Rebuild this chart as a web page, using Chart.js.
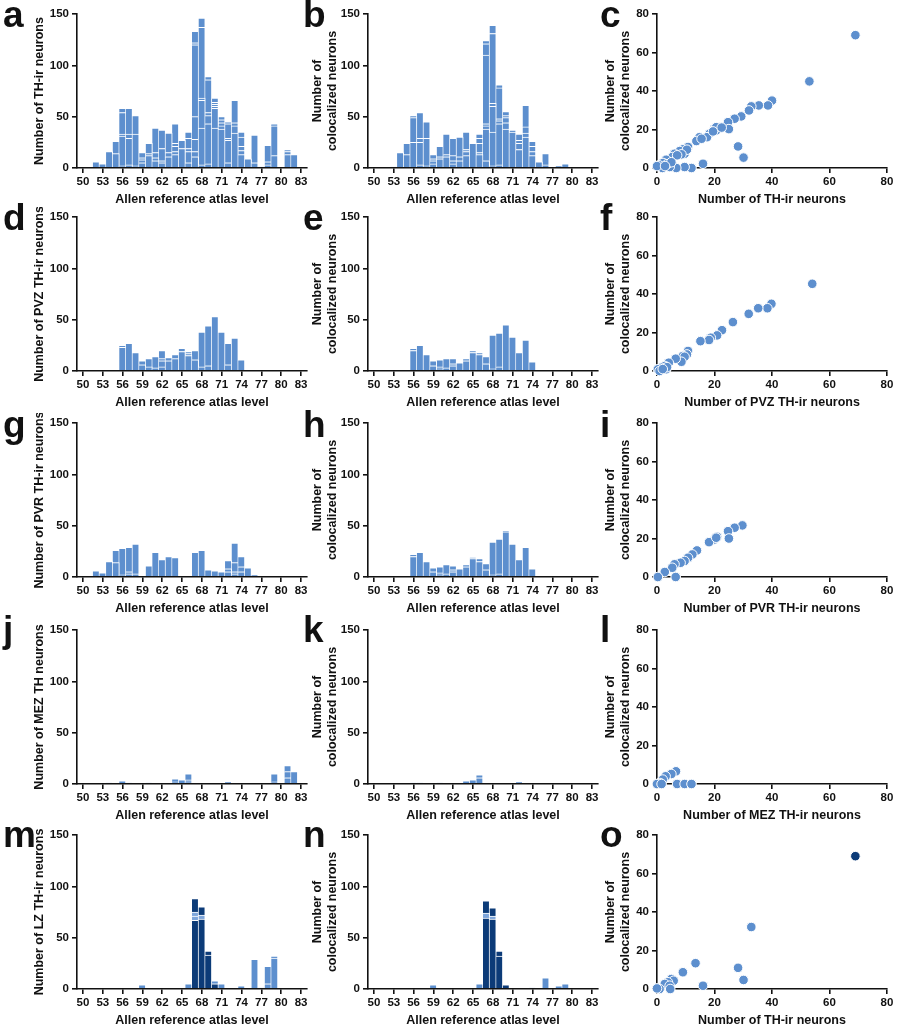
<!DOCTYPE html>
<html lang="en">
<head>
<meta charset="UTF-8">
<title>TH-ir neurons by atlas level</title>
<style>
  * { margin: 0; padding: 0; box-sizing: border-box; }
  body {
    width: 900px; height: 1031px; background: #fff;
    position: relative; overflow: hidden;
    font-family: 'Liberation Sans', Arial, sans-serif;
  }
  canvas { position: absolute; }
  .tag { position: absolute; font-size: 37px; line-height: 37px; font-weight: bold; color: #111; }
</style>
</head>
<body>
<script src="https://cdn.jsdelivr.net/npm/chart.js@4"></script>
<script>
// x categories of the histograms (Allen reference atlas levels)
const levels = [50, 51, 52, 53, 54, 55, 56, 57, 58, 59, 60, 61, 62, 63, 64, 65, 66,
                67, 68, 69, 70, 71, 72, 73, 74, 75, 76, 77, 78, 79, 80, 81, 82, 83];
const levelTicks = [50, 53, 56, 59, 62, 65, 68, 71, 74, 77, 80, 83];

// stacked segments per level, bottom -> top (one entry per level above)
const aSegs = [
  [], [], [6], [4], [16], [14, 12], [2, 29, 2, 21, 4], [3, 26, 4, 25], [2, 31, 18], [5, 3, 2, 5],
  [12, 2, 10], [7, 3, 5, 24], [5, 2, 12, 18], [11, 4, 19], [13, 3, 5, 3, 19], [19, 8], [5, 11, 3, 10, 6],
  [11, 5, 12, 22, 70, 2, 11], [3, 36, 27, 2, 69, 9], [4, 39, 8, 3, 32, 3],
  [39, 19, 2, 2, 2, 4], [38, 3, 3, 3, 3], [5, 22, 2, 14, 2], [34, 7, 3, 22], [13, 4, 4, 9, 5], [9], [5, 27], [1], [3, 3, 16], [12, 29, 2],
  [], [13, 3, 2], [13], []
];
const bSegs = [
  [], [], [], [1], [15], [13, 11], [25, 24, 2], [3, 22, 4, 25], [2, 27, 16], [4, 3, 2, 4],
  [9, 2, 10], [11, 2, 20], [4, 3, 5, 17], [7, 4, 19], [12, 4, 2, 17], [24], [13, 2, 9, 5, 4],
  [7, 31, 3, 2, 67, 11, 3], [2, 33, 25, 3, 68, 8], [3, 40, 3, 2, 30, 3],
  [38, 6, 5, 2, 4], [35, 2], [18, 6, 3, 6], [30, 4, 6, 21], [12, 4, 5, 5], [6], [3, 11], [], [2], [4],
  [], [], [], []
];
const dSegs = [
  [], [], [], [], [], [], [23, 2], [27], [18], [6, 4],
  [4, 8], [3, 11], [4, 6, 2, 8], [10, 3], [12, 4], [19, 3], [15, 2, 2], [11, 9], [4, 34], [5, 39],
  [53], [38], [6, 21], [32], [11], [], [], [], [], [],
  [], [], [], []
];
const eSegs = [
  [], [], [], [], [], [], [20, 2], [25], [16], [5, 5],
  [2, 2, 7], [3, 9], [5, 2, 5], [8], [10, 2], [18, 2], [16, 2], [7, 7], [2, 33], [4, 33],
  [45], [33], [18], [30], [9], [], [], [], [], [],
  [], [], [], []
];
const gSegs = [
  [], [], [6], [4], [15], [14, 12], [2, 26], [3, 2, 24], [3, 29], [],
  [11], [24], [17], [20], [19], [], [], [24], [26], [7],
  [6], [5], [5, 3, 8], [3, 2, 9, 19], [5, 5, 10], [9], [2], [], [], [],
  [], [], [], []
];
const hSegs = [
  [], [], [], [], [], [], [20, 2], [24], [15], [5, 4],
  [2, 2, 6], [3, 9], [5, 2, 4], [8], [10, 2], [18, 1], [15, 3], [7, 6], [2, 32], [3, 34],
  [44, 1], [32], [17], [29], [8], [], [], [], [], [],
  [], [], [], []
];
const jSegs = [
  [], [], [], [], [1], [], [3], [1], [], [],
  [1], [], [], [], [2, 3], [4], [2, 2, 6], [], [], [],
  [], [], [2], [], [], [], [], [], [], [2, 8],
  [], [6, 6, 6], [12], []
];
const kSegs = [
  [], [], [], [], [], [], [1], [1], [], [],
  [1], [], [], [], [3], [4], [6, 3], [], [], [],
  [], [], [2], [], [], [], [], [], [], [],
  [], [], [], []
];
const mSegs = [
  [], [], [], [], [], [], [], [], [], [4],
  [], [], [], [], [], [], [5], [67, 4, 4, 13], [68, 4, 8], [33, 4],
  [5, 3], [5], [], [], [3], [], [29], [1], [5, 17], [30, 2],
  [], [], [], []
];
// tone of each segment: d = LZ dark, m = mid, l = light
const mTones = [
  '', '', '', '', '', '', '', '', '', 'l',
  '', '', '', '', '', '', 'l', 'dmmd', 'dmd', 'dd',
  'dl', 'l', '', '', 'l', '', 'l', 'l', 'll', 'll',
  '', '', '', ''
];
const nSegs = [
  [], [], [], [], [], [], [], [], [], [4],
  [], [], [], [], [], [], [5], [69, 5, 12], [68, 3, 8], [32, 5],
  [4], [], [], [], [1], [], [11], [], [3], [5],
  [], [], [], []
];
const nTones = [
  '', '', '', '', '', '', '', '', '', 'l',
  '', '', '', '', '', '', 'l', 'dmd', 'dmd', 'dd',
  'd', '', '', '', 'l', '', 'l', '', 'l', 'l',
  '', '', '', ''
];

// scatter panels: TH-ir count vs colocalized count
const cX = [69, 53, 40, 38.6, 35.4, 32.8, 32, 29.3, 27, 24.7, 25, 21.8, 20.6, 20, 18.3, 17.4, 14.8, 13.7, 10.8, 9, 7.9, 6.1, 5.3,
            3.2, 2.1, 0.7, 28.2, 30.1, 16, 12, 9.6, 6.7, 4.4, 1.9, 0, 9.6, 10.4, 8.5, 7, 20.6, 19.5, 3.5, 5, 2.8, 15.5, 22.5];
const cY = [69, 45, 35, 32.5, 32.5, 32, 29.9, 26.8, 25.6, 23.8, 20.2, 21.2, 19.5, 20.4, 17.8, 16, 16, 14, 10.9, 9.7, 8.8, 7.4, 5.7,
            4.3, 2.6, 1.4, 11.2, 5.4, 2.2, 0, 0.5, 0, 0.5, 0, 1, 7.4, 9.5, 7.1, 6.6, 21.2, 19, 2, 3, 1, 15.2, 21];
const fX = [54, 39.8, 38.4, 35.2, 31.9, 26.4, 22.6, 20.9, 18.7, 18.1, 15.1, 10.8, 10.4, 9, 9.6, 8.5, 6.5, 4.1, 2.7, 1.5, 0.3, 0.9, 3.2, 3.5, 2];
const fY = [45.3, 34.9, 32.6, 32.6, 29.7, 25.4, 21.2, 18.5, 17.3, 16.1, 15.5, 10.4, 8.6, 7.8, 7.4, 4.8, 6.4, 4.3, 2.6, 1.7, 0.9, 0, 0.9, 2, 1];
const iX = [29.7, 27, 24.7, 25, 20.9, 20, 18.1, 13.9, 12.3, 10.8, 9.6, 8.2, 6.1, 5.3, 2.7, 0.3, 6.5, 20.6];
const iY = [26.8, 25.6, 23.8, 20, 20.9, 19.5, 18.1, 13.8, 11.7, 10, 8.3, 7.4, 6.6, 4.8, 2.6, 0, 0, 20.4];
const lX = [6.6, 5, 3, 2, 1, 7, 9.6, 12, 0, 1.6];
const lY = [6.6, 5.2, 4, 2.3, 0.5, 0, 0, 0, 0, 0];
const oX = [32.8, 13.4, 9, 28.2, 30.1, 16, 5, 5.8, 3.8, 2.7, 4.4, 4.6, 0.9, 0];
const oY = [32.2, 13.4, 8.7, 11, 4.7, 1.7, 5.2, 4.3, 3.5, 2.6, 1.7, 0, 0, 0.3];
const oDarkX = [69];
const oDarkY = [69];

const blue = '#5d8fce';
const navy = '#0c3b78';
const mid = '#7ea6db';
const ink = '#111';
const toneColor = { l: blue, m: mid, d: navy };

Chart.defaults.font.family = "'Liberation Sans', Arial, sans-serif";
Chart.defaults.font.size = 11;
Chart.defaults.font.weight = 'bold';
Chart.defaults.color = ink;

// canvas placement: left edge, y-axis box width, canvas width, right pad, y title pad
const cols = [
  { left: 0, yw: 77, w: 317, pr: 10, tp: 32.5 },
  { left: 300, yw: 68, w: 308, pr: 10, tp: 10.5 },
  { left: 600, yw: 57, w: 300, pr: 13, tp: 3.5 }
];
const rowTop = [4, 207, 413, 620, 825];
const H = 206;

const tickFont = { size: 11.5, weight: 'bold' };
const titleFont = { size: 12.5, weight: 'bold' };

function place(col, row) {
  const c = cols[col];
  const cv = document.createElement('canvas');
  cv.width = c.w;
  cv.height = H;
  cv.style.left = c.left + 'px';
  cv.style.top = rowTop[row] + 'px';
  document.body.appendChild(cv);
  return cv;
}

function base(c) {
  return {
    responsive: false,
    animation: false,
    events: [],
    layout: { padding: { top: 10, right: c.pr, bottom: 0, left: 0 } },
    plugins: { legend: { display: false }, tooltip: { enabled: false } }
  };
}

function xAxis(title, z) {
  return {
    afterFit: s => { s.height = 42; },
    offset: false,
    grid: { offset: false, drawOnChartArea: false, drawTicks: true, tickLength: 5, color: ink, lineWidth: 1.6 },
    border: { display: true, color: ink, width: 1.6, z: z },
    ticks: { padding: 2, autoSkip: false, maxRotation: 0, color: ink, font: tickFont },
    title: { display: true, text: title, color: ink, font: titleFont, padding: { top: 0, bottom: 2.5 } }
  };
}

function yAxis(c, title, max, step, z) {
  return {
    afterFit: s => { s.width = c.yw; },
    min: 0,
    max: max,
    grid: { drawOnChartArea: false, drawTicks: true, tickLength: 5, color: ink, lineWidth: 1.6 },
    border: { display: true, color: ink, width: 1.6, z: z },
    ticks: { stepSize: step, padding: 3, color: ink, font: tickFont },
    title: { display: true, text: title, color: ink, font: titleFont, padding: { top: c.tp, bottom: 0 } }
  };
}

function barPanel(col, row, segs, yTitle, tones) {
  const c = cols[col];
  const depth = Math.max(...segs.map(s => s.length));
  const datasets = [];
  for (let k = 0; k < depth; k++) {
    datasets.push({
      data: levels.map((lv, i) => ({
        x: lv,
        y: segs[i][k] !== undefined ? segs[i][k] : (k === 0 ? 0 : null)
      })),
      backgroundColor: ctx => {
        if (!tones) return blue;
        const t = tones[ctx.dataIndex] || '';
        return toneColor[t[k]] || blue;
      },
      borderColor: '#fff',
      borderWidth: { top: 1, right: 1, bottom: 0, left: 0 },
      categoryPercentage: 1,
      barPercentage: 1
    });
  }
  const x = xAxis('Allen reference atlas level', 1);
  x.type = 'linear';
  x.stacked = true;
  x.min = 49.1;
  x.max = 83.9;
  x.afterBuildTicks = s => { s.ticks = levelTicks.map(v => ({ value: v })); };
  const y = yAxis(c, yTitle, 150, 50, 1);
  y.stacked = true;
  new Chart(place(col, row), {
    type: 'bar',
    data: { datasets },
    options: Object.assign(base(c), { scales: { x, y } })
  });
}

function dotPanel(col, row, xs, ys, xTitle, darkX, darkY) {
  const c = cols[col];
  const dot = { borderColor: '#fff', borderWidth: 1, pointRadius: 4.8, clip: false };
  const datasets = [Object.assign({
    data: xs.map((v, i) => ({ x: v, y: ys[i] })),
    backgroundColor: blue
  }, dot)];
  if (darkX) {
    datasets.push(Object.assign({
      data: darkX.map((v, i) => ({ x: v, y: darkY[i] })),
      backgroundColor: navy
    }, dot));
  }
  const x = xAxis(xTitle, 0);
  x.type = 'linear';
  x.min = 0;
  x.max = 80;
  x.ticks.stepSize = 20;
  const y = yAxis(c, ['Number of', 'colocalized neurons'], 80, 20, 0);
  new Chart(place(col, row), {
    type: 'scatter',
    data: { datasets },
    options: Object.assign(base(c), { scales: { x, y } })
  });
}

const coloc = ['Number of', 'colocalized neurons'];

barPanel(0, 0, aSegs, 'Number of TH-ir neurons');
barPanel(1, 0, bSegs, coloc);
dotPanel(2, 0, cX, cY, 'Number of TH-ir neurons');

barPanel(0, 1, dSegs, 'Number of PVZ TH-ir neurons');
barPanel(1, 1, eSegs, coloc);
dotPanel(2, 1, fX, fY, 'Number of PVZ TH-ir neurons');

barPanel(0, 2, gSegs, 'Number of PVR TH-ir neurons');
barPanel(1, 2, hSegs, coloc);
dotPanel(2, 2, iX, iY, 'Number of PVR TH-ir neurons');

barPanel(0, 3, jSegs, 'Number of MEZ TH neurons');
barPanel(1, 3, kSegs, coloc);
dotPanel(2, 3, lX, lY, 'Number of MEZ TH-ir neurons');

barPanel(0, 4, mSegs, 'Number of LZ TH-ir neurons', mTones);
barPanel(1, 4, nSegs, coloc, nTones);
dotPanel(2, 4, oX, oY, 'Number of TH-ir neurons', oDarkX, oDarkY);

// panel letters
const tags = 'abcdefghijklmno';
const tagLeft = [3, 303, 600];
const tagBase = [27, 230, 437, 642, 847];
for (let i = 0; i < tags.length; i++) {
  const el = document.createElement('div');
  el.className = 'tag';
  el.textContent = tags[i];
  el.style.left = tagLeft[i % 3] + 'px';
  el.style.top = (tagBase[Math.floor(i / 3)] - 31.3) + 'px';
  document.body.appendChild(el);
}
</script>
</body>
</html>
